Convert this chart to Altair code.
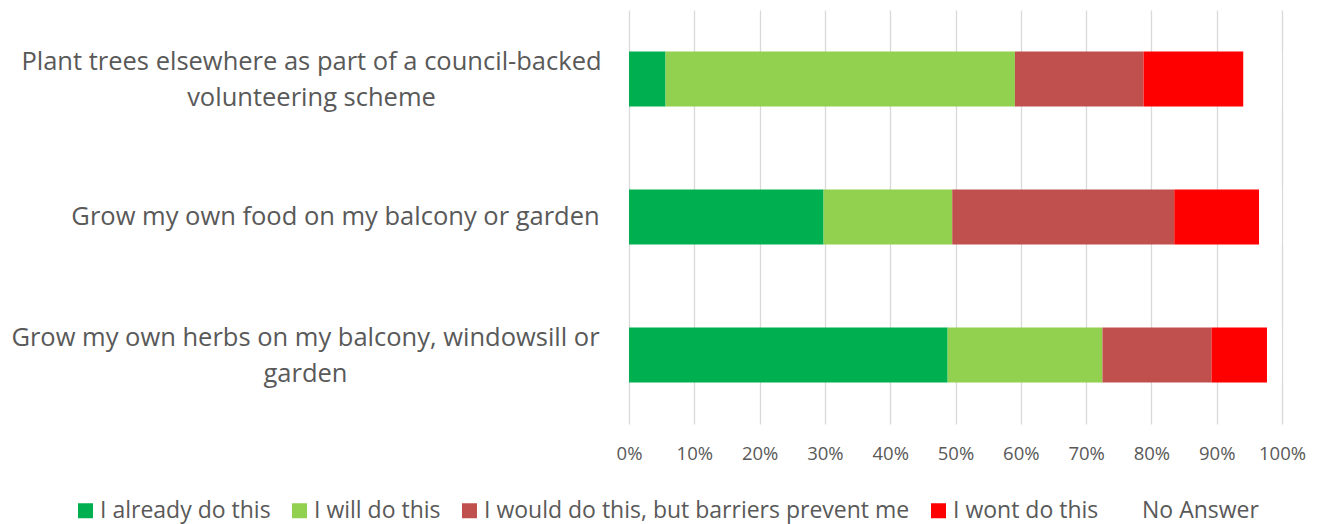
import altair as alt
import pandas as pd

questions = [
    "Plant trees elsewhere as part of a council-backed|volunteering scheme",
    "Grow my own food on my balcony or garden",
    "Grow my own herbs on my balcony, windowsill or|garden",
]
categories = ["I already do this", "I will do this",
              "I would do this, but barriers prevent me", "I wont do this", "No Answer"]
colors = ["#00B050", "#92D050", "#C0504D", "#FF0000", "#FFFFFF"]

already = [5.6, 29.8, 48.8]
will = [53.5, 19.7, 23.7]
barriers = [19.7, 34.0, 16.7]
wont = [15.3, 13.0, 8.5]
no_answer = [5.9, 3.5, 2.3]

series = [already, will, barriers, wont, no_answer]
rows = []
for ci, (cat, vals) in enumerate(zip(categories, series)):
    for q, v in zip(questions, vals):
        rows.append({"question": q, "category": cat, "value": v / 100.0, "order": ci})
df = pd.DataFrame(rows)

FONT = "Open Sans"
GREY = "#595959"

pad_cond = {
    "condition": [
        {"test": f"datum.value == '{questions[1]}'", "value": 294},
        {"test": f"datum.value == '{questions[2]}'", "value": 324},
    ],
    "value": 318,
}
offset_cond = {
    "condition": {"test": f"datum.value == '{questions[1]}'", "value": 0},
    "value": -17,
}

chart = alt.Chart(df).mark_bar(strokeWidth=0).encode(
    y=alt.Y("question:N", sort=questions, title=None,
            scale=alt.Scale(paddingInner=0.6, paddingOuter=0.3),
            axis=alt.Axis(labelExpr="split(datum.label, '|')", labelAlign="center",
                          labelPadding=pad_cond, labelOffset=offset_cond,
                          labelFont=FONT, labelFontSize=25.5,
                          labelColor=GREY, labelLimit=800, ticks=False, domain=False,
                          labelLineHeight=36)),
    x=alt.X("value:Q", stack="zero", title=None,
            scale=alt.Scale(domain=[0, 1], nice=False),
            axis=alt.Axis(format=".0%", values=[i / 10 for i in range(11)], grid=True,
                          gridColor="#D9D9D9", gridWidth=1.3, domain=False, ticks=False,
                          labelFont=FONT, labelFontSize=18.5, labelColor=GREY,
                          labelFlush=False, labelPadding=20)),
    color=alt.Color("category:N", sort=categories,
                    scale=alt.Scale(domain=categories, range=colors),
                    legend=alt.Legend(title=None, orient="none", direction="horizontal",
                                      legendX=-555, legendY=489, symbolType="square",
                                      symbolSize=225, symbolStrokeWidth=0,
                                      labelFont=FONT, labelFontSize=23, labelColor=GREY,
                                      labelLimit=800, columnPadding=17, labelOffset=3)),
    order=alt.Order("order:Q"),
).properties(
    width=653, height=414,
    autosize=alt.AutoSizeParams(type="none"),
    padding={"left": 629, "top": 10, "right": 37, "bottom": 100},
).configure_view(stroke=None)

chart.save("out.html", embed_options={"renderer": "svg", "actions": False})
